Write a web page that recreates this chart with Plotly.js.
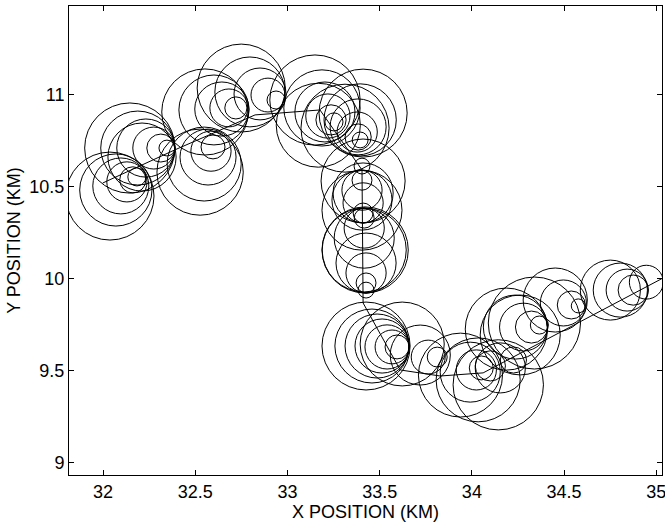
<!DOCTYPE html>
<html>
<head>
<meta charset="utf-8">
<script src="https://cdn.plot.ly/plotly-3.0.1.min.js"></script>
<style>html,body{margin:0;padding:0;background:#fff;}#chart{width:665px;height:524px;}</style>
</head>
<body>
<div id="chart"></div>
<script>
// Track (km)
var trackX = [31.998, 32.389, 32.824, 33.176, 33.404, 33.410, 33.611, 33.828, 34.061, 35.03];
var trackY = [10.520, 10.700, 10.890, 10.917, 10.591, 9.868, 9.504, 9.471, 9.488, 10.00];

// Circle centres and radii (km)
var circleX = [
  32.037,32.069,32.096,32.129,32.161,32.183,
  32.145,32.188,32.232,32.275,32.313,32.346,32.211,
  32.526,32.548,32.569,32.585,32.596,
  32.552,32.601,32.644,32.682,32.720,
  32.749,32.796,32.851,32.894,32.938,
  33.149,33.187,33.203,33.219,33.236,33.252,33.167,
  33.410,33.394,33.383,33.378,33.383,33.394,33.312,
  33.404,33.404,33.404,33.404,33.404,33.410,33.410,33.410,33.410,
  33.416,33.416,33.416,33.416,33.426,33.426,33.426,33.421,33.426,
  33.426,33.458,33.486,33.513,33.540,33.567,33.594,33.622,
  33.763,33.812,33.720,
  33.938,34.034,34.143,33.991,34.024,34.051,34.100,34.154,34.225,
  34.187,34.339,34.236,34.280,34.323,34.366,34.262,
  34.452,34.496,34.539,34.577,
  34.751,34.805,34.842,34.875,34.946
];
var circleY = [
  10.449,10.482,10.504,10.526,10.537,10.553,
  10.710,10.710,10.710,10.710,10.710,10.710,10.661,
  10.579,10.623,10.661,10.693,10.716,
  10.906,10.917,10.922,10.928,10.928,
  11.036,11.015,11.004,10.998,10.971,
  10.971,10.928,10.906,10.884,10.863,10.852,10.834,
  10.900,10.863,10.825,10.797,10.770,10.754,10.818,
  10.612,10.535,10.481,10.427,10.372,10.357,10.412,10.466,10.531,
  10.329,10.275,10.220,10.156,9.977,10.031,10.085,10.156,9.938,
  9.634,9.634,9.634,9.634,9.629,9.629,9.629,9.645,
  9.574,9.574,9.585,
  9.476,9.450,9.423,9.492,9.504,9.515,9.526,9.515,9.558,
  9.726,9.759,9.737,9.737,9.737,9.748,9.694,
  9.884,9.868,9.857,9.852,
  9.938,9.938,9.938,9.938,9.981
];
var circleR = [
  0.239,0.196,0.152,0.109,0.071,0.049,
  0.245,0.201,0.158,0.114,0.076,0.043,0.185,
  0.234,0.201,0.152,0.109,0.065,
  0.234,0.190,0.147,0.103,0.060,
  0.239,0.190,0.141,0.092,0.049,
  0.245,0.207,0.163,0.120,0.082,0.049,0.228,
  0.239,0.196,0.152,0.109,0.071,0.043,0.239,
  0.043,0.054,0.109,0.163,0.217,0.054,0.109,0.163,0.228,
  0.054,0.109,0.163,0.228,0.054,0.109,0.163,0.234,0.043,
  0.239,0.201,0.174,0.147,0.120,0.092,0.065,0.228,
  0.092,0.054,0.163,
  0.228,0.228,0.245,0.163,0.109,0.065,0.082,0.136,0.071,
  0.223,0.250,0.174,0.130,0.087,0.049,0.217,
  0.174,0.125,0.076,0.038,
  0.163,0.147,0.114,0.082,0.092
];

var xTicks = [32, 32.5, 33, 33.5, 34, 34.5, 35];
var yTicks = [9, 9.5, 10, 10.5, 11];

var shapes = circleX.map(function (cx, i) {
  var r = circleR[i], cy = circleY[i];
  return {
    type: 'circle', xref: 'x', yref: 'y',
    x0: cx - r, x1: cx + r, y0: cy - r, y1: cy + r,
    line: {color: '#000', width: 1}, fillcolor: 'rgba(0,0,0,0)', layer: 'above'
  };
});

var font = {family: 'Liberation Sans, Arial, Helvetica, sans-serif', size: 18, color: '#000'};

var data = [{
  x: trackX, y: trackY, type: 'scatter', mode: 'lines',
  line: {color: '#000', width: 1}, hoverinfo: 'none', showlegend: false
}];

var layout = {
  width: 665, height: 524,
  margin: {l: 69, r: 3, t: 6, b: 49, pad: 0},
  paper_bgcolor: '#fff', plot_bgcolor: '#fff',
  font: font,
  showlegend: false,
  shapes: shapes,
  xaxis: {
    range: [31.815, 35.031], tickvals: xTicks, ticktext: xTicks.map(String),
    ticks: 'inside', ticklen: 5, tickwidth: 1, tickcolor: '#000',
    showline: true, linecolor: '#000', linewidth: 1, mirror: 'ticks',
    showgrid: false, zeroline: false, tickfont: font,
    ticklabeloverflow: 'allow',
    title: {text: 'X POSITION (KM)', font: font, standoff: 0}
  },
  yaxis: {
    range: [8.933, 11.482], tickvals: yTicks, ticktext: yTicks.map(String),
    ticks: 'inside', ticklen: 5, tickwidth: 1, tickcolor: '#000',
    showline: true, linecolor: '#000', linewidth: 1, mirror: 'ticks',
    showgrid: false, zeroline: false, tickfont: font,
    ticklabeloverflow: 'allow',
    title: {text: 'Y POSITION (KM)', font: font, standoff: 4}
  }
};

Plotly.newPlot('chart', data, layout, {displayModeBar: false, staticPlot: true});
</script>
</body>
</html>
